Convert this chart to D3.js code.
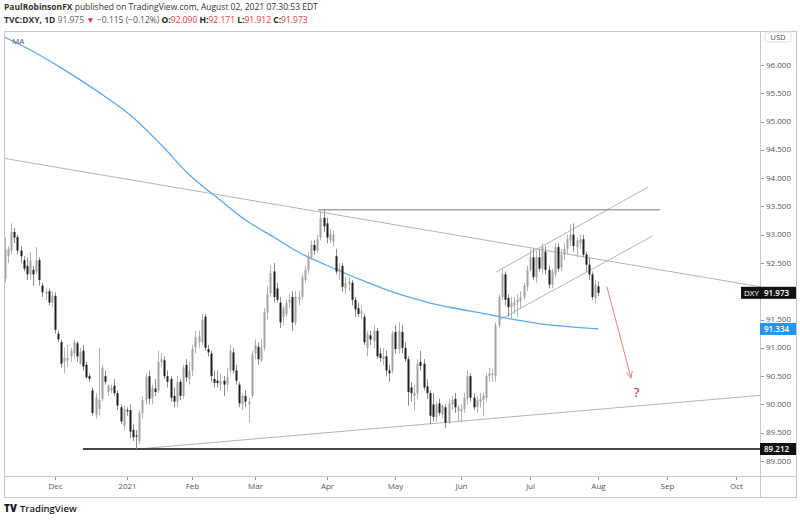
<!DOCTYPE html>
<html>
<head>
<meta charset="utf-8">
<script src="https://cdn.jsdelivr.net/npm/d3@7"></script>
<style>
  body { margin: 0; background: #fff; }
  text { font-family: "Open Sans", Roboto, sans-serif; }
</style>
</head>
<body>
<div class="chart"></div>
<script>
// daily candles, Nov 9 2020 -> Aug 2 2021 (weekdays), [open, high, low, close]
var ohlc = [
  [92.23,92.95,92.15,92.73],[92.62,92.8,92.5,92.75],[92.72,93.2,92.65,93.05],[93.05,93.12,92.85,92.95],
  [92.96,93.0,92.65,92.72],[92.72,92.8,92.5,92.62],[92.55,92.62,92.35,92.4],[92.45,92.6,92.2,92.3],
  [92.3,92.7,92.2,92.55],[92.38,92.45,92.1,92.3],[92.35,92.78,92.3,92.55],[92.55,92.6,92.1,92.2],
  [92.1,92.15,91.9,91.98],[91.95,92.05,91.85,92.0],[92.0,92.05,91.75,91.8],[91.8,92.0,91.72,91.92],
  [91.92,91.98,91.25,91.32],[91.25,91.3,91.1,91.15],[91.1,91.15,90.65,90.72],[90.75,91.0,90.55,90.82],
  [90.78,91.05,90.65,90.82],[90.85,91.0,90.75,90.95],[90.9,91.15,90.8,91.1],[91.08,91.12,90.75,90.85],
  [90.72,91.0,90.7,90.92],[90.95,91.05,90.6,90.67],[90.7,90.75,90.45,90.48],[90.5,90.55,90.4,90.45],
  [90.25,90.3,89.8,89.85],[89.82,90.2,89.75,90.12],[89.92,91.0,89.8,90.08],[90.1,90.7,90.05,90.65],
  [90.5,90.6,90.35,90.4],[90.22,90.35,90.15,90.34],[90.25,90.35,90.2,90.3],[90.33,90.45,90.15,90.2],
  [90.2,90.25,89.9,89.98],[89.95,90.0,89.65,89.7],[89.62,89.98,89.55,89.92],[89.9,89.95,89.8,89.88],
  [89.9,90.0,89.4,89.52],[89.55,89.65,89.35,89.42],[89.45,89.55,89.21,89.43],[89.35,89.9,89.3,89.85],
  [89.85,90.15,89.75,90.08],[90.08,90.55,90.0,90.48],[90.5,90.6,90.0,90.1],[90.12,90.35,90.0,90.3],
  [90.28,90.45,90.15,90.22],[90.25,90.95,90.2,90.75],[90.75,90.9,90.65,90.8],[90.78,90.85,90.45,90.5],
  [90.5,90.6,90.3,90.4],[90.45,90.5,90.05,90.12],[90.15,90.3,89.95,90.05],[90.05,90.5,89.95,90.4],
  [90.4,90.45,90.08,90.15],[90.15,90.7,90.1,90.65],[90.7,90.8,90.4,90.48],[90.45,90.75,90.35,90.6],
  [90.6,91.05,90.5,90.98],[91.0,91.3,90.9,91.18],[91.1,91.3,91.0,91.2],[91.1,91.6,91.05,91.5],
  [91.55,91.6,90.95,91.0],[90.98,91.05,90.85,90.92],[90.9,90.95,90.4,90.5],[90.45,90.6,90.3,90.38],
  [90.42,90.6,90.3,90.38],[90.35,90.55,90.25,90.42],[90.42,90.5,90.15,90.35],[90.35,90.65,90.25,90.48],
  [90.6,91.05,90.55,90.95],[90.92,91.0,90.55,90.6],[90.6,90.7,90.35,90.42],[90.35,90.4,89.95,90.02],
  [90.0,90.2,89.9,90.15],[90.15,90.25,89.95,90.05],[90.0,90.12,89.68,90.05],[90.15,90.95,90.1,90.88],
  [90.9,91.15,90.8,91.05],[91.02,91.1,90.7,90.8],[90.78,91.15,90.75,91.0],[91.0,91.7,90.95,91.63],
  [91.62,92.1,91.5,91.95],[91.97,92.45,91.9,92.32],[92.35,92.5,91.8,91.9],[92.05,92.15,91.8,91.85],
  [91.8,91.9,91.35,91.45],[91.55,91.75,91.4,91.7],[91.6,91.85,91.55,91.8],[91.8,91.95,91.7,91.85],
  [91.9,92.0,91.3,91.45],[91.45,92.0,91.4,91.9],[91.85,92.0,91.75,91.9],[91.9,92.3,91.85,92.25],
  [92.2,92.45,92.15,92.38],[92.38,92.7,92.3,92.62],[92.6,92.9,92.55,92.82],[92.82,92.9,92.65,92.72],
  [92.72,93.0,92.68,92.92],[92.95,93.43,92.9,93.3],[93.3,93.44,93.05,93.15],[93.2,93.3,92.85,92.95],
  [92.9,93.1,92.85,93.02],[92.88,93.08,92.8,93.0],[92.62,92.75,92.3,92.35],[92.35,92.5,92.2,92.4],
  [92.45,92.5,92.0,92.08],[92.05,92.25,91.95,92.15],[92.12,92.25,92.0,92.18],[92.15,92.2,91.75,91.85],
  [91.85,91.9,91.55,91.68],[91.7,91.8,91.55,91.6],[91.6,91.75,91.5,91.65],[91.55,91.6,91.05,91.1],
  [91.0,91.3,90.85,91.25],[91.22,91.3,91.05,91.15],[91.12,91.4,91.0,91.3],[91.3,91.35,90.8,90.85],
  [90.9,91.0,90.75,90.82],[90.8,91.0,90.7,90.85],[90.85,90.95,90.5,90.6],[90.6,90.7,90.4,90.55],
  [90.6,91.3,90.55,91.25],[91.28,91.4,90.9,90.98],[90.98,91.45,90.9,91.3],[91.28,91.4,90.9,91.0],
  [91.0,91.1,90.75,90.8],[90.8,90.85,89.98,90.22],[90.3,90.4,90.05,90.2],[90.15,90.35,89.9,90.2],
  [90.2,90.8,90.1,90.72],[90.75,90.95,90.6,90.68],[90.72,90.8,90.25,90.3],[90.32,90.45,90.1,90.2],
  [90.2,90.25,89.65,89.8],[90.0,90.2,89.7,89.78],[89.78,90.05,89.7,90.0],[90.02,90.1,89.8,89.85],
  [89.82,90.0,89.75,89.98],[89.95,90.0,89.58,89.68],[89.68,90.1,89.65,90.02],[90.0,90.15,89.9,90.08],
  [90.1,90.2,89.85,89.95],[89.88,90.0,89.7,89.95],[89.88,90.0,89.68,89.92],[89.92,90.2,89.85,90.12],
  [90.1,90.6,90.0,90.5],[90.5,90.55,90.05,90.12],[90.12,90.2,89.9,89.95],[89.95,90.15,89.85,90.08],
  [90.05,90.2,89.95,90.1],[90.08,90.2,89.8,90.15],[90.12,90.55,90.05,90.5],[90.5,90.65,90.4,90.55],
  [90.52,90.62,90.4,90.55],[90.5,91.45,90.4,91.4],[91.4,91.95,91.35,91.9],[91.9,92.4,91.85,92.3],
  [92.3,92.35,91.75,91.85],[91.88,91.95,91.55,91.72],[91.72,91.9,91.5,91.8],[91.75,91.9,91.6,91.8],
  [91.8,91.95,91.55,91.85],[91.82,92.0,91.7,91.9],[91.9,92.15,91.85,92.1],[92.08,92.45,92.0,92.38],
  [92.38,92.75,92.35,92.6],[92.6,92.75,92.2,92.25],[92.25,92.72,92.15,92.6],[92.6,92.75,92.35,92.4],
  [92.4,92.85,92.3,92.78],[92.7,92.8,92.3,92.38],[92.38,92.45,92.05,92.12],[92.12,92.4,92.05,92.35],
  [92.3,92.85,92.25,92.78],[92.78,92.85,92.35,92.4],[92.42,92.75,92.35,92.65],[92.65,92.85,92.55,92.75],
  [92.75,93.0,92.65,92.92],[92.9,93.19,92.8,93.0],[93.0,93.2,92.7,92.8],[92.78,92.95,92.6,92.9],
  [92.85,93.0,92.75,92.92],[92.92,93.0,92.6,92.65],[92.65,92.7,92.35,92.47],[92.47,92.6,92.2,92.3],
  [92.3,92.35,91.85,91.9],[91.88,92.2,91.78,92.12],[92.09,92.171,91.912,91.973]
];

// moving average: [bar index, value]
var maPoints = [
  [0,96.49],[8,96.27],[18,95.95],[30,95.52],[40,95.12],[50,94.59],[59,94.06],[69,93.61],
  [77,93.26],[86,92.96],[94,92.69],[103,92.46],[114,92.2],[125,91.97],[135,91.81],[144,91.7],
  [153,91.61],[164,91.49],[175,91.4],[190,91.334]
];

// drawings: [bar index, price]
var trendDown = [[-0.3,94.35],[241.7,92.08]];
var trendUp = [[42,89.21],[241.7,90.16]];
var resistance = [[100.2,93.44],[209.7,93.44]];
var support = [[25,89.212],[241.7,89.212]];
var channelTop = [[157.2,92.34],[205.8,93.84]];
var channelBottom = [[158.1,91.49],[207.4,92.98]];
var arrowPts = [[192.7,92.08],[200.4,90.47]];

var priceTicks = [89,89.5,90,90.5,91,91.5,92,92.5,93,93.5,94,94.5,95,95.5,96];
var hiddenTicks = [92];
var monthStarts = ["2020-12","2021-01","2021-02","2021-03","2021-04","2021-05","2021-06","2021-07","2021-08","2021-09","2021-10"];

var lastClose = 91.973, maLast = 91.334, supportLevel = 89.212;

// setting up the chart
var widthSVG = 800;
var heightSVG = 520;
var plot = { left: 4, right: 760, top: 31, bottom: 476 };

// weekday dates for every bar slot (incl. future space)
var dates = [];
var d0 = new Date(2020, 10, 9);
while (dates.length < 243) {
  if (d0.getDay() !== 0 && d0.getDay() !== 6) dates.push(new Date(d0));
  d0.setDate(d0.getDate() + 1);
}

var x = d3.scaleLinear().domain([-0.3, 241.7]).range([plot.left, plot.right]);
var y = d3.scaleLinear().domain([89, 96]).range([461, 65]);

var svg = d3.select(".chart").append("svg")
  .attr("width", widthSVG)
  .attr("height", heightSVG)
  .style("display", "block");

svg.append("rect").attr("width", widthSVG).attr("height", heightSVG).attr("fill", "#fff");

// header
var h1 = svg.append("text").attr("x", 4).attr("y", 10).attr("font-size", 8.5).attr("fill", "#333");
h1.append("tspan").attr("font-weight", 700).text("PaulRobinsonFX");
h1.append("tspan").text(" published on TradingView.com, August 02, 2021 07:30:53 EDT");

var h2 = svg.append("text").attr("x", 4).attr("y", 23).attr("font-size", 8.5).attr("fill", "#333");
h2.append("tspan").attr("font-weight", 700).text("TVC:DXY, 1D ");
h2.append("tspan").attr("fill", "#666").text("91.975 ");
h2.append("tspan").attr("fill", "#e53935").text("▼ ");
h2.append("tspan").attr("fill", "#555").text("−0.115 (−0.12%) ");
[["O:", "92.090"], ["H:", "92.171"], ["L:", "91.912"], ["C:", "91.973"]].forEach(function (p) {
  h2.append("tspan").attr("font-weight", 700).attr("fill", "#222").text(p[0]);
  h2.append("tspan").attr("fill", "#e53935").text(p[1] + " ");
});

// frame
svg.append("rect")
  .attr("x", 4.5).attr("y", 31.5).attr("width", 792).attr("height", 466)
  .attr("fill", "none").attr("stroke", "#c8c8c8");
svg.append("line").attr("x1", 760.5).attr("x2", 760.5).attr("y1", 31).attr("y2", 497)
  .attr("stroke", "#c8c8c8");
svg.append("line").attr("x1", 4).attr("x2", 797).attr("y1", 476.5).attr("y2", 476.5)
  .attr("stroke", "#c8c8c8");

svg.append("clipPath").attr("id", "plotClip")
  .append("rect").attr("x", plot.left + 1).attr("y", plot.top + 1)
  .attr("width", plot.right - plot.left - 1).attr("height", plot.bottom - plot.top - 1);

var g = svg.append("g").attr("clip-path", "url(#plotClip)");

var line = d3.line().x(function (d) { return x(d[0]); }).y(function (d) { return y(d[1]); });

// trend lines
g.append("path").attr("d", line(trendDown)).attr("stroke", "#b4b4b4").attr("stroke-width", 1).attr("fill", "none");
g.append("path").attr("d", line(trendUp)).attr("stroke", "#b4b4b4").attr("stroke-width", 1).attr("fill", "none");
g.append("path").attr("d", line(channelTop)).attr("stroke", "#b4b4b4").attr("stroke-width", 1).attr("fill", "none");
g.append("path").attr("d", line(channelBottom)).attr("stroke", "#b4b4b4").attr("stroke-width", 1).attr("fill", "none");
g.append("path").attr("d", line(resistance)).attr("stroke", "#7a7a7a").attr("stroke-width", 1).attr("fill", "none");
g.append("path").attr("d", line(support)).attr("stroke", "#444").attr("stroke-width", 2).attr("fill", "none");

// moving average
g.append("path")
  .attr("d", line.curve(d3.curveCatmullRom)(maPoints))
  .attr("stroke", "#5aaaf0").attr("stroke-width", 1.3).attr("fill", "none");
line.curve(d3.curveLinear);

// candles
var candles = g.selectAll(".candle").data(ohlc).enter().append("g").attr("class", "candle");
candles.append("line")
  .attr("x1", function (d, i) { return Math.round(x(i)) + 0.5; })
  .attr("x2", function (d, i) { return Math.round(x(i)) + 0.5; })
  .attr("y1", function (d) { return y(d[1]); })
  .attr("y2", function (d) { return y(d[2]); })
  .attr("stroke", function (d) { return d[3] >= d[0] ? "#b3b3b3" : "#8a8a8a"; })
  .attr("stroke-width", 1);
candles.append("rect")
  .attr("x", function (d, i) { return Math.round(x(i)) - 0.5; })
  .attr("width", 2)
  .attr("y", function (d) { return y(Math.max(d[0], d[3])); })
  .attr("height", function (d) { return Math.max(1, Math.abs(y(d[0]) - y(d[3]))); })
  .attr("fill", function (d) { return d[3] >= d[0] ? "#a3a3a3" : "#1e1e1e"; });

// red arrow
var ax1 = x(arrowPts[0][0]), ay1 = y(arrowPts[0][1]), ax2 = x(arrowPts[1][0]), ay2 = y(arrowPts[1][1]);
g.append("line").attr("x1", ax1).attr("y1", ay1).attr("x2", ax2).attr("y2", ay2)
  .attr("stroke", "#f08080").attr("stroke-width", 1);
var ang = Math.atan2(ay2 - ay1, ax2 - ax1);
g.append("path")
  .attr("d", "M" + (ax2 - 7 * Math.cos(ang - 0.45)) + "," + (ay2 - 7 * Math.sin(ang - 0.45)) +
    "L" + ax2 + "," + ay2 + "L" + (ax2 - 7 * Math.cos(ang + 0.45)) + "," + (ay2 - 7 * Math.sin(ang + 0.45)))
  .attr("stroke", "#f08080").attr("fill", "none");
g.append("text").attr("x", x(201.3)).attr("y", y(90.22) + 5).attr("font-size", 13)
  .attr("fill", "#c62828").text("?");

g.append("text").attr("x", 12).attr("y", 44).attr("font-size", 8).attr("fill", "#555").text("MA");

// price axis
var rightAxis = svg.append("g");
priceTicks.forEach(function (p) {
  rightAxis.append("line").attr("x1", 761).attr("x2", 764).attr("y1", Math.round(y(p)) + 0.5).attr("y2", Math.round(y(p)) + 0.5)
    .attr("stroke", "#999");
  if (hiddenTicks.indexOf(p) >= 0) return;
  rightAxis.append("text").attr("x", 766).attr("y", y(p) + 2.5).attr("font-size", 8)
    .attr("fill", "#555").text(d3.format(".3f")(p));
});
rightAxis.append("rect").attr("x", 765).attr("y", 32).attr("width", 26).attr("height", 10).attr("rx", 2)
  .attr("fill", "#fff").attr("stroke", "#e0e0e0");
rightAxis.append("text").attr("x", 778).attr("y", 40).attr("text-anchor", "middle").attr("font-size", 7.5)
  .attr("fill", "#555").text("USD");

// price labels
function priceTag(val, color, label) {
  var yy = y(val);
  if (label) {
    svg.append("rect").attr("x", 741).attr("y", yy - 6).attr("width", 20).attr("height", 12).attr("fill", "#111");
    svg.append("text").attr("x", 744).attr("y", yy + 3).attr("font-size", 8).attr("fill", "#fff").text(label);
  }
  svg.append("rect").attr("x", 760).attr("y", yy - 6).attr("width", 36).attr("height", 12).attr("fill", color);
  svg.append("text").attr("x", 764).attr("y", yy + 3).attr("font-size", 8).attr("font-weight", 600)
    .attr("fill", "#fff").text(d3.format(".3f")(val));
}
priceTag(lastClose, "#111", "DXY");
priceTag(maLast, "#2196f3");
priceTag(supportLevel, "#111");

// time axis
var fmtMonth = d3.timeFormat("%b");
monthStarts.forEach(function (m) {
  var idx = dates.findIndex(function (d) { return d3.timeFormat("%Y-%m")(d) === m; });
  var xx = Math.round(x(idx)) + 0.5;
  svg.append("line").attr("x1", xx).attr("x2", xx).attr("y1", 477).attr("y2", 480).attr("stroke", "#999");
  svg.append("text").attr("x", xx).attr("y", 489).attr("text-anchor", "middle").attr("font-size", 8)
    .attr("fill", "#555").text(dates[idx].getMonth() === 0 ? dates[idx].getFullYear() : fmtMonth(dates[idx]));
});

// footer logo
svg.append("text").attr("x", 4).attr("y", 512).attr("font-size", 10).attr("font-weight", 900)
  .attr("fill", "#131722").text("TV");
svg.append("text").attr("x", 20).attr("y", 512).attr("font-size", 9.5).attr("font-weight", 600)
  .attr("fill", "#131722").text("TradingView");
</script>
</body>
</html>
